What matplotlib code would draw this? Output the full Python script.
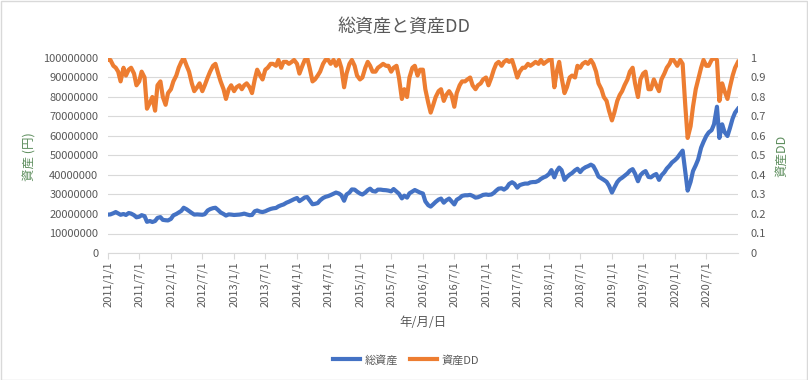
import matplotlib
matplotlib.use("Agg")
import matplotlib.pyplot as plt
import matplotlib.patches as patches
import numpy as np
import pandas as pd

plt.rcParams['font.family'] = ['Noto Sans CJK JP', 'DejaVu Sans']

# semi-monthly readings, 2011/1/1 .. 2021/1/1
START = '2011-01-01'

# 総資産 (in millions of yen)
asset_m = [
    19.7, 19.8, 20.4, 21.0, 20.3, 19.6, 20.0, 19.5, 20.5, 20.2, 19.4, 18.3,
    18.6, 19.4, 18.9, 16.0, 16.4, 15.9, 16.4, 18.0, 18.4, 17.0, 16.8, 16.7,
    17.5, 19.3, 20.0, 20.8, 21.6, 23.2, 22.4, 21.5, 20.5, 19.7, 19.8, 19.7,
    19.6, 19.9, 21.8, 22.5, 23.0, 23.2, 22.0, 20.8, 20.0, 19.2, 19.8, 19.7,
    19.5, 19.6, 19.7, 19.9, 20.2, 19.8, 19.4, 19.5, 21.4, 21.8, 21.2, 21.0,
    21.4, 22.0, 22.6, 22.9, 23.1, 23.9, 24.5, 24.9, 25.8, 26.3, 27.0, 27.6,
    28.2, 26.6, 27.6, 28.5, 28.7, 27.0, 25.0, 25.2, 25.6, 27.0, 28.2, 28.8,
    29.2, 29.7, 30.4, 31.0, 30.5, 29.6, 26.8, 30.0, 31.0, 32.6, 32.5, 31.5,
    30.5, 30.0, 31.0, 32.2, 33.0, 31.8, 31.5, 32.5, 32.5, 32.3, 32.2, 32.0, 31.6,
    32.8, 31.5, 30.4, 28.0, 29.4, 28.4, 30.6, 31.5, 32.3, 31.6, 31.0, 30.5,
    26.5, 24.5, 23.8, 25.0, 26.2, 27.4, 27.9, 25.8, 27.0, 27.9, 26.5, 24.9,
    27.3, 28.2, 29.3, 29.6, 29.6, 29.8, 29.3, 28.4, 28.6, 29.2, 29.8, 30.0,
    29.8, 30.0, 30.8, 32.0, 33.0, 33.2, 32.5, 33.5, 35.4, 36.3, 35.5, 33.5,
    34.8, 35.3, 35.6, 35.6, 36.2, 36.4, 36.4, 37.0, 38.0, 38.8, 39.3, 40.5,
    42.5, 38.8, 42.0, 43.8, 42.5, 37.5, 39.0, 40.2, 41.0, 42.4, 43.2, 41.5,
    43.0, 44.0, 44.5, 45.3, 44.6, 42.0, 39.2, 38.3, 37.5, 36.5, 34.5, 31.0,
    33.5, 36.4, 37.8, 38.6, 39.6, 40.8, 42.2, 43.0, 40.7, 36.8, 39.9, 41.3,
    42.0, 39.0, 38.8, 39.9, 40.5, 37.5, 39.8, 41.4, 43.3, 44.8, 46.4, 47.6,
    48.8, 50.9, 52.5, 42.0, 32.0, 36.5, 42.0, 45.0, 48.0, 54.0, 57.0, 60.0,
    61.8, 63.0, 66.0, 75.0, 59.0, 66.0, 62.0, 60.0, 64.0, 69.0, 72.0, 74.0,
]

# 資産DD
dd = [
    0.99, 0.99, 0.96, 0.95, 0.93, 0.88, 0.95, 0.91, 0.94, 0.95, 0.92, 0.86,
    0.88, 0.93, 0.90, 0.74, 0.77, 0.80, 0.73, 0.86, 0.88, 0.80, 0.76, 0.82,
    0.84, 0.88, 0.91, 0.95, 0.98, 1.00, 0.96, 0.93, 0.87, 0.83, 0.85, 0.87,
    0.83, 0.86, 0.90, 0.93, 0.96, 0.97, 0.92, 0.88, 0.84, 0.79, 0.84, 0.86,
    0.83, 0.85, 0.86, 0.84, 0.86, 0.87, 0.85, 0.82, 0.89, 0.94, 0.91, 0.89,
    0.94, 0.95, 0.97, 0.97, 0.96, 0.99, 0.95, 0.98, 0.98, 0.97, 0.98, 0.99,
    0.97, 0.92, 0.96, 0.99, 1.00, 0.95, 0.88, 0.89, 0.91, 0.93, 0.97, 0.99,
    0.99, 0.97, 0.99, 0.96, 0.99, 0.95, 0.85, 0.92, 0.97, 0.99, 0.96, 0.91,
    0.89, 0.90, 0.95, 0.98, 0.96, 0.93, 0.93, 0.95, 0.96, 0.97, 0.96, 0.96, 0.93,
    0.95, 0.96, 0.90, 0.79, 0.84, 0.80, 0.90, 0.95, 0.96, 0.91, 0.94, 0.94,
    0.84, 0.77, 0.72, 0.76, 0.80, 0.83, 0.84, 0.78, 0.81, 0.83, 0.81, 0.75,
    0.82, 0.86, 0.88, 0.88, 0.89, 0.90, 0.86, 0.84, 0.86, 0.87, 0.89, 0.90,
    0.86, 0.90, 0.94, 0.97, 0.98, 0.96, 0.98, 0.99, 0.98, 0.99, 0.95, 0.90,
    0.93, 0.95, 0.95, 0.97, 0.96, 0.97, 0.98, 0.97, 0.99, 0.97, 0.98, 0.99,
    1.00, 0.85, 0.93, 0.98, 0.90, 0.82, 0.85, 0.90, 0.91, 0.90, 0.96, 0.95,
    0.97, 0.98, 0.97, 0.99, 0.97, 0.93, 0.87, 0.84, 0.80, 0.78, 0.73, 0.68,
    0.72, 0.78, 0.81, 0.83, 0.86, 0.89, 0.93, 0.95, 0.87, 0.80, 0.89, 0.92,
    0.93, 0.84, 0.84, 0.89, 0.86, 0.83, 0.89, 0.92, 0.95, 0.97, 1.00, 0.98,
    0.96, 0.99, 0.97, 0.76, 0.59, 0.65, 0.75, 0.84, 0.89, 0.95, 0.99, 0.96,
    0.96, 0.99, 1.00, 0.99, 0.78, 0.87, 0.83, 0.79, 0.85, 0.91, 0.95, 0.98,
]

tick_labels = [f'{y}/{m}/1' for y in range(2011, 2021) for m in (1, 7)]
left_ticks = list(range(0, 100000001, 10000000))
right_ticks = [0, 0.1, 0.2, 0.3, 0.4, 0.5, 0.6, 0.7, 0.8, 0.9, 1]

dates = pd.date_range(START, periods=len(dd), freq='SMS')
asset = np.array(asset_m) * 1e6

BLUE = '#4472C4'
ORANGE = '#ED7D31'
GRID = '#D9D9D9'
TXT = '#595959'
GREEN = '#5E8E5E'

fig = plt.figure(figsize=(8.08, 3.80), dpi=100)
fig.patches.append(patches.Rectangle((0.5 / 808, 0.5 / 380), 806.5 / 808, 378.5 / 380,
                                     transform=fig.transFigure, fill=False,
                                     edgecolor=GRID, lw=1))
ax = fig.add_axes([108 / 808, 1 - 253 / 380, 630 / 808, 195 / 380])
ax2 = ax.twinx()

l1, = ax.plot(dates, asset, color=BLUE, lw=3.0, label='総資産', solid_joinstyle='round')
l2, = ax2.plot(dates, dd, color=ORANGE, lw=3.0, label='資産DD', solid_joinstyle='round')

ax.set_ylim(0, 100000000)
ax2.set_ylim(0, 1)
ax.set_xlim(dates[0], dates[-1])
ax.set_yticks(left_ticks)
ax.set_yticklabels([str(v) for v in left_ticks])
ax2.set_yticks(right_ticks)
ax2.set_yticklabels([f'{v:g}' for v in right_ticks])

ax.set_xticks(pd.to_datetime(tick_labels, format='%Y/%m/%d'))
ax.set_xticklabels(tick_labels, rotation=90)

ax.grid(axis='y', color=GRID, lw=0.8)
ax.set_axisbelow(True)
for a in (ax, ax2):
    for s in ('top', 'left', 'right'):
        a.spines[s].set_visible(False)
    a.spines['bottom'].set_color(GRID)
ax2.spines['bottom'].set_visible(False)

ax.tick_params(axis='x', colors=GRID, labelcolor=TXT, labelsize=8, length=4, pad=2)
ax.tick_params(axis='y', length=0, labelcolor=TXT, labelsize=8, pad=7)
ax2.tick_params(axis='y', length=0, labelcolor=TXT, labelsize=8, pad=9)

fig.text(0.5, 1 - 27 / 380, '総資産と資産DD', ha='center', va='center', fontsize=13, color=TXT)
fig.text(423 / 808, 1 - 322 / 380, '年/月/日', ha='center', va='center', fontsize=9, color=TXT)
fig.text(30 / 808, 1 - 157 / 380, '資産 (円)', ha='center', va='center', rotation=90,
         fontsize=9, color=GREEN)
fig.text(782 / 808, 1 - 156 / 380, '資産DD', ha='center', va='center', rotation=90,
         fontsize=9, color=GREEN)

leg = fig.legend(handles=[l1, l2], loc='center', bbox_to_anchor=(406 / 808, 1 - 360 / 380),
                 ncol=2, frameon=False, fontsize=8, handlelength=2.4, handletextpad=0.4,
                 columnspacing=1.1)
for t in leg.get_texts():
    t.set_color(TXT)
for h in leg.get_lines():
    h.set_linewidth(3)

fig.savefig('out.png', dpi=100)
